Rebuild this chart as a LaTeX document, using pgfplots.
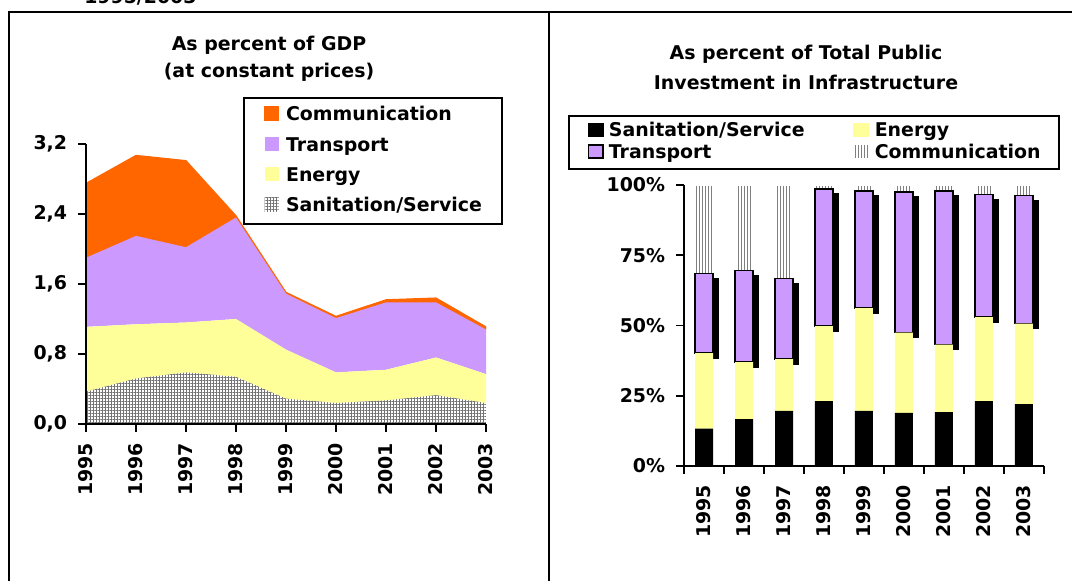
\documentclass[border=0pt]{standalone}
\usepackage{fontspec}
\setmainfont{DejaVu Sans}
\usepackage{pgfplots}
\usepackage{pgfplotstable}
\pgfplotsset{compat=1.18}
\usetikzlibrary{patterns.meta,shadows}
\definecolor{comm}{HTML}{FF6600}
\definecolor{trans}{HTML}{CC99FF}
\definecolor{ener}{HTML}{FFFF99}
\newcommand{\tfont}{\fontsize{14.2}{17}\selectfont\bfseries}

\pgfplotstableread{
year san ener trans comm
1995 0.37 0.74 0.79 0.85
1996 0.52 0.62 1.01 0.92
1997 0.59 0.57 0.86 0.99
1998 0.54 0.66 1.16 0.02
1999 0.29 0.56 0.64 0.015
2000 0.24 0.35 0.62 0.02
2001 0.27 0.35 0.77 0.03
2002 0.33 0.43 0.63 0.05
2003 0.24 0.33 0.51 0.03
}\gdptable

\pgfplotstableread{
x san ener trans comm
0 13.3 26.9 28.3 31.5
1 16.7 20.3 32.6 30.4
2 19.6 18.4 28.7 33.3
3 23.1 26.7 48.7 1.5
4 19.6 36.6 41.6 2.2
5 18.9 28.6 50.0 2.5
6 19.2 24.0 54.7 2.1
7 23.1 29.9 43.6 3.4
8 22.0 28.7 45.6 3.7
}\sharetable

\pgfplotsset{
  sq/.style={legend image code/.code={\path[##1] (0pt,-3.5pt) rectangle (10.5pt,7pt);}},
}

\begin{document}
\begin{tikzpicture}
\useasboundingbox (0,0) rectangle (804pt,435.75pt);
% frame
\draw[line width=1.5pt] (7.1pt,-2pt) -- (7.1pt,426.75pt) -- (806pt,426.75pt);
\draw[line width=1.5pt] (412pt,-2pt) -- (412pt,426.75pt);
\node[anchor=base west, inner sep=0pt, font=\tfont] at (63pt,432.75pt) {1995/2003};

% ---------- left: as percent of GDP ----------
\begin{axis}[
  at={(64.5pt,117.75pt)}, anchor=south west,
  scale only axis, width=300pt, height=210pt,
  xmin=1995, xmax=2003, ymin=0, ymax=3.2,
  axis lines=left, axis line style={-, line width=1.5pt},
  axis on top,
  tick align=outside, major tick length=6pt,
  every tick/.style={line width=1.2pt, black},
  xtick={1995,1996,...,2003}, ytick={0,0.8,1.6,2.4,3.2},
  stack plots=y,
  font=\tfont,
  /pgf/number format/assume math mode=true,
  x tick label style={rotate=90, anchor=east, inner sep=0pt, /pgf/number format/1000 sep={}},
  y tick label style={inner sep=0pt, /pgf/number format/.cd, fixed, fixed zerofill, precision=1, use comma},
  xticklabel shift=8pt, yticklabel shift=8pt,
  title={As percent of GDP\\(at constant prices)},
  title style={at={(0.4575,1.3586)}, anchor=north, align=center, inner sep=0pt, font=\fontsize{14.2}{20.25}\selectfont\bfseries},
  reverse legend,
  legend style={at={(0.3925,1.168)}, anchor=north west, draw=black, line width=1.5pt, fill=white,
    inner xsep=15pt, inner ysep=6pt, row sep=9pt, column sep=5.25pt, font=\tfont,
    nodes={inner sep=0pt, text height=10.4pt, text depth=3pt}},
  legend cell align=left,
]
\addplot[draw=none, pattern={Hatch[angle=0,distance=2.25pt,line width=0.5pt]}, pattern color=gray!90!black, sq] table[x=year,y=san]{\gdptable} \closedcycle;
\addplot[draw=none, fill=ener, sq] table[x=year,y=ener]{\gdptable} \closedcycle;
\addplot[draw=none, fill=trans, sq] table[x=year,y=trans]{\gdptable} \closedcycle;
\addplot[draw=comm, line width=0.8pt, fill=comm, sq] table[x=year,y=comm]{\gdptable} \closedcycle;
\legend{Sanitation/Service,Energy,Transport,Communication}
\end{axis}

% ---------- right: as percent of total public investment ----------
\begin{axis}[
  at={(513pt,86.25pt)}, anchor=south west,
  scale only axis, width=270pt, height=210.75pt,
  xmin=-0.5, xmax=8.5, ymin=0, ymax=100,
  ybar stacked, bar width=13.5pt,
  axis lines=left, axis line style={-, line width=1.5pt},
  axis on top,
  tick align=outside, major tick length=6pt,
  every tick/.style={line width=1.2pt, black},
  xtick={-0.5,0.5,...,8.5}, xticklabels={},
  extra x ticks={0,1,...,8},
  extra x tick labels={1995,1996,1997,1998,1999,2000,2001,2002,2003},
  extra x tick style={major tick length=0pt},
  ytick={0,25,50,75,100},
  yticklabel={\pgfmathprintnumber{\tick}\%},
  font=\tfont,
  /pgf/number format/assume math mode=true,
  x tick label style={rotate=90, anchor=east, inner sep=0pt},
  y tick label style={inner sep=0pt},
  xticklabel shift=14pt, yticklabel shift=8pt,
  title={As percent of Total Public\\Investment in Infrastructure},
  title style={at={(0.339,1.4705)}, anchor=north, align=center, inner sep=0pt, font=\fontsize{14.2}{22.5}\selectfont\bfseries},
  legend columns=2,
  legend style={at={(-0.322,1.249)}, anchor=north west, draw=black, line width=1.5pt, fill=white,
    inner xsep=14pt, inner ysep=5pt, row sep=2.3pt, column sep=3.75pt, font=\tfont,
    nodes={inner sep=0pt, text height=10.4pt, text depth=3pt},
    /tikz/column 2/.style={column sep=36pt}},
  legend cell align=left,
]
\addplot[draw=none, fill=black, legend image code/.code={\path[fill=black] (0pt,-3.5pt) rectangle (12pt,7pt);}] table[x=x,y=san]{\sharetable};
\addplot[draw=none, fill=ener, legend image code/.code={\path[fill=ener] (0pt,-3.5pt) rectangle (12pt,7pt);}] table[x=x,y=ener]{\sharetable};
\addplot[forget plot, draw=black, line width=1.1pt, fill=trans,
  drop shadow={shadow xshift=4pt, shadow yshift=-3.75pt, fill=black, opacity=1}] table[x=x,y=trans]{\sharetable};
\addlegendimage{legend image code/.code={\path[fill=trans, draw=black, line width=1.1pt] (0.5pt,-3pt) rectangle (11.5pt,6.5pt);}}
\addplot[draw=white, line width=0.8pt, pattern={Lines[angle=90,distance=2.25pt,line width=0.75pt]}, pattern color=gray,
  legend image code/.code={\path[pattern={Lines[angle=90,distance=2.25pt,line width=0.75pt]}, pattern color=gray] (0pt,-3.5pt) rectangle (12pt,7pt);}] table[x=x,y=comm]{\sharetable};
\legend{Sanitation/Service,Energy,Transport,Communication}
\end{axis}
\end{tikzpicture}
\end{document}
